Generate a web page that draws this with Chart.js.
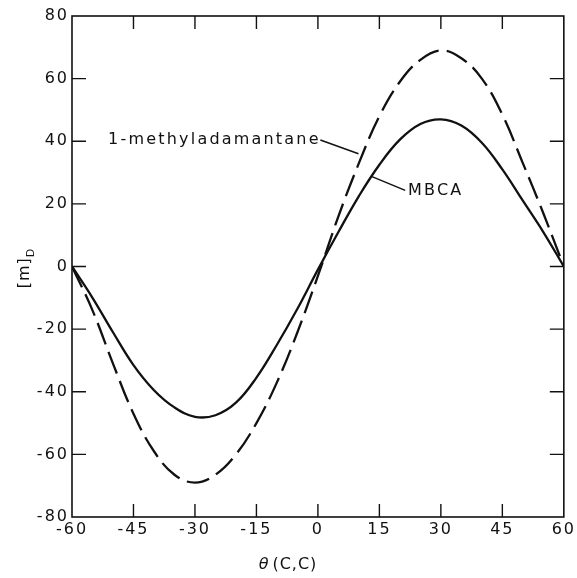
<!DOCTYPE html>
<html>
<head>
<meta charset="utf-8">
<script src="https://cdn.jsdelivr.net/npm/chart.js@4.4.1/dist/chart.umd.min.js"></script>
<style>
  html,body{margin:0;padding:0;background:#fff}
  #wrap{width:577px;height:578px}
</style>
</head>
<body>
<div id="wrap"><canvas id="c"></canvas></div>
<script>
// values, every 5 degrees
const theta = [-60,-55,-50,-45,-40,-35,-30,-25,-20,-15,-10,-5,0,5,10,15,20,25,30,35,40,45,50,55,60];
const methyladamantane = [0,-14,-31,-47,-59,-66.5,-69,-66.5,-60,-50,-37,-21,-3,16,33,48,59,66,69,66.5,60,48.5,33,17,0];
const mbca = [0,-10,-21,-31.5,-39.5,-45,-48,-47.5,-43.5,-35.5,-25,-13.5,-1,11,22.5,32.5,40.5,45.5,47,45,39.5,31,21,11,0];

const xTicks = [-60,-45,-30,-15,0,15,30,45,60];
const yTicks = [-80,-60,-40,-20,0,20,40,60,80];

const INK = "#111";
const FONT = "'DejaVu Sans', sans-serif";

// frame, inward tick marks, titles and curve labels
const decor = {
  id: "decor",
  beforeDraw(chart){ chart.ctx.letterSpacing = "2px"; },
  afterDraw(chart){
    const {ctx, chartArea: a, scales: {x, y}} = chart;
    ctx.save();
    ctx.letterSpacing = "0px";
    ctx.strokeStyle = INK;
    ctx.lineWidth = 1.6;
    ctx.strokeRect(a.left, a.top, a.right - a.left, a.bottom - a.top);

    ctx.lineWidth = 1.4;
    ctx.beginPath();
    xTicks.slice(1, -1).forEach(v => {
      const px = x.getPixelForValue(v);
      ctx.moveTo(px, a.bottom); ctx.lineTo(px, a.bottom - 13);
      ctx.moveTo(px, a.top); ctx.lineTo(px, a.top + 13);
    });
    yTicks.slice(1, -1).forEach(v => {
      const py = y.getPixelForValue(v);
      ctx.moveTo(a.left, py); ctx.lineTo(a.left + 14, py);
      ctx.moveTo(a.right, py); ctx.lineTo(a.right - 14, py);
    });
    ctx.stroke();

    // leader lines
    ctx.lineWidth = 1.5;
    ctx.beginPath();
    ctx.moveTo(x.getPixelForValue(0.6), y.getPixelForValue(40.4));
    ctx.lineTo(x.getPixelForValue(9.9), y.getPixelForValue(36));
    ctx.moveTo(x.getPixelForValue(13.2), y.getPixelForValue(28.7));
    ctx.lineTo(x.getPixelForValue(21.3), y.getPixelForValue(24.3));
    ctx.stroke();

    ctx.fillStyle = INK;
    ctx.textBaseline = "middle";
    ctx.letterSpacing = "2.2px";
    ctx.font = "16px " + FONT;
    ctx.textAlign = "left";
    ctx.fillText("1-methyladamantane", x.getPixelForValue(-51.2), y.getPixelForValue(40.4));
    ctx.fillText("MBCA", x.getPixelForValue(22), y.getPixelForValue(24.3));

    // x title
    ctx.letterSpacing = "1px";
    const th = "θ";
    const rest = "(C,C)";
    ctx.font = "italic 16px " + FONT;
    const w1 = ctx.measureText(th).width;
    ctx.font = "16px " + FONT;
    const w2 = ctx.measureText(rest).width;
    const sx = 288 - (w1 + w2 + 3) / 2;
    ctx.font = "italic 16px " + FONT;
    ctx.fillText(th, sx, 565);
    ctx.font = "16px " + FONT;
    ctx.fillText(rest, sx + w1 + 3, 565);

    // y title, rotated
    ctx.translate(25, 268);
    ctx.rotate(-Math.PI / 2);
    ctx.font = "16px " + FONT;
    const m = "[m]";
    const mw = ctx.measureText(m).width;
    ctx.font = "11px " + FONT;
    const dw = ctx.measureText("D").width;
    const start = -(mw + dw) / 2;
    ctx.font = "16px " + FONT;
    ctx.fillText(m, start, 0);
    ctx.font = "11px " + FONT;
    ctx.fillText("D", start + mw, 6);
    ctx.restore();
  }
};

new Chart(document.getElementById("c"), {
  type: "line",
  data: {
    datasets: [
      {
        label: "1-methyladamantane",
        data: theta.map((t, i) => ({x: t, y: methyladamantane[i]})),
        borderColor: INK, borderWidth: 2.3, borderDash: [23, 8],
        pointRadius: 0, fill: false, tension: 0.4
      },
      {
        label: "MBCA",
        data: theta.map((t, i) => ({x: t, y: mbca[i]})),
        borderColor: INK, borderWidth: 2.3,
        pointRadius: 0, fill: false, tension: 0.4
      }
    ]
  },
  options: {
    responsive: true,
    maintainAspectRatio: false,
    animation: false,
    layout: {padding: {top: 16, right: 9, left: 0, bottom: 0}},
    plugins: {legend: {display: false}, tooltip: {enabled: false}},
    scales: {
      x: {
        type: "linear", min: -60, max: 60,
        afterBuildTicks: s => { s.ticks = xTicks.map(v => ({value: v})); },
        afterFit: s => { s.height = 61; },
        grid: {display: false, drawTicks: false},
        border: {display: false},
        ticks: {color: INK, font: {family: FONT, size: 16}, padding: 3, maxRotation: 0, autoSkip: false}
      },
      y: {
        type: "linear", min: -80, max: 80,
        afterBuildTicks: s => { s.ticks = yTicks.map(v => ({value: v})); },
        afterFit: s => { s.width = 72; },
        grid: {display: false, drawTicks: false},
        border: {display: false},
        ticks: {color: INK, font: {family: FONT, size: 16}, padding: 3, autoSkip: false}
      }
    }
  },
  plugins: [decor]
});
</script>
</body>
</html>
